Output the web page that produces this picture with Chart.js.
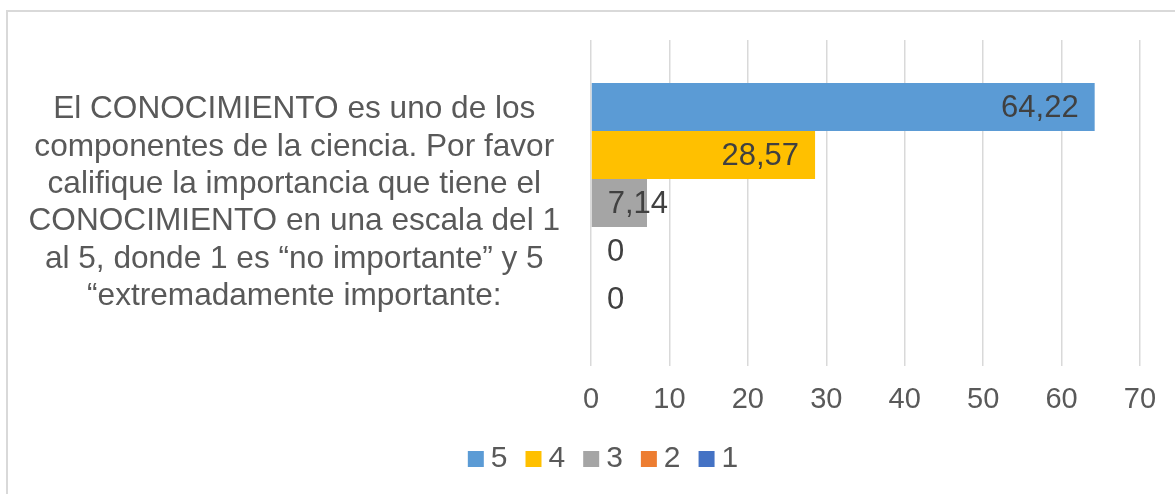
<!DOCTYPE html>
<html>
<head>
<meta charset="utf-8">
<script src="https://cdn.jsdelivr.net/npm/chart.js@4"></script>
<style>
  html, body { margin: 0; padding: 0; background: #fff; overflow: hidden; }
  #frame { position: absolute; left: 6px; top: 10px; width: 1300px; height: 600px;
           border-left: 2px solid #d9d9d9; border-top: 2px solid #d9d9d9; }
  #wrap { position: absolute; left: 0; top: 0; width: 1175px; height: 494px; }
</style>
</head>
<body>
<div id="frame"></div>
<div id="wrap"><canvas id="chart"></canvas></div>
<script>
// data
let questionLines = [
    'El CONOCIMIENTO es uno de los',
    'componentes de la ciencia. Por favor',
    'califique la importancia que tiene el',
    'CONOCIMIENTO en una escala del 1',
    'al 5, donde 1 es \u201cno importante\u201d y 5',
    '\u201cextremadamente importante:'
];
let seriesNames = ['5', '4', '3', '2', '1'];
let seriesValues = [64.22, 28.57, 7.14, 0, 0];
let seriesColors = ['#5b9bd5', '#ffc000', '#a5a5a5', '#ed7d31', '#4472c4'];
let xTicks = [0, 10, 20, 30, 40, 50, 60, 70];

let fontFam = '"Liberation Sans", Arial, sans-serif';

// legend marker: square drawn off to the right so it sits close to the text
function legendSquare(color) {
    let c = document.createElement('canvas');
    c.width = 32;
    c.height = 16;
    let g = c.getContext('2d');
    g.fillStyle = color;
    g.fillRect(15, 0, 16, 16);
    return c;
}

// labels drawn like Excel "inside end"
let valueLabels = {
    id: 'valueLabels',
    afterDatasetsDraw(chart) {
        let ctx = chart.ctx;
        ctx.save();
        ctx.font = '31px ' + fontFam;
        ctx.fillStyle = '#404040';
        ctx.textBaseline = 'middle';
        ctx.textAlign = 'left';
        chart.data.datasets.forEach((ds, i) => {
            let meta = chart.getDatasetMeta(i);
            meta.data.forEach((bar, j) => {
                let txt = String(ds.data[j]).replace('.', ',');
                let w = ctx.measureText(txt).width;
                let x = Math.max(bar.x - 16 - w, bar.base + 16);
                ctx.fillText(txt, x, bar.y + 1);
            });
        });
        ctx.restore();
    }
};

// legend sits a bit right of the canvas centre in the original
let legendShift = {
    id: 'legendShift',
    afterLayout(chart) {
        chart.legend.left += 30;
        chart.legend.right += 30;
    }
};

let datasets = seriesNames.map((name, i) => ({
    label: name,
    data: [seriesValues[i]],
    backgroundColor: seriesColors[i],
    pointStyle: legendSquare(seriesColors[i]),
    borderWidth: 0,
    barPercentage: 1,
    categoryPercentage: 0.736
}));

let ctx = document.querySelector('#chart').getContext('2d');
let chart = new Chart(ctx, {
    type: 'bar',
    data: {
        labels: [questionLines],
        datasets: datasets
    },
    plugins: [valueLabels, legendShift],
    options: {
        indexAxis: 'y',
        responsive: true,
        maintainAspectRatio: false,
        animation: false,
        layout: {
            padding: { top: 40, right: 35, bottom: 10, left: 0 }
        },
        plugins: {
            legend: {
                position: 'bottom',
                labels: {
                    usePointStyle: true,
                    boxWidth: 14,
                    boxHeight: 16,
                    padding: 12,
                    color: '#595959',
                    font: { size: 30, family: fontFam }
                }
            },
            tooltip: { enabled: false }
        },
        scales: {
            x: {
                min: 0,
                max: 70,
                afterBuildTicks: (scale) => {
                    scale.ticks = xTicks.map(v => ({ value: v }));
                },
                afterFit: (scale) => { scale.height = 66; },
                ticks: {
                    color: '#595959',
                    padding: 17,
                    maxRotation: 0,
                    font: { size: 29, family: fontFam }
                },
                grid: {
                    color: '#d9d9d9',
                    lineWidth: 1.5,
                    drawTicks: false
                },
                border: { display: false }
            },
            y: {
                afterFit: (scale) => {
                    scale.width = 591;
                    scale.paddingTop = 0;
                    scale.paddingBottom = 0;
                },
                ticks: {
                    color: '#595959',
                    padding: 31,
                    crossAlign: 'center',
                    font: { size: 31.6, family: fontFam, lineHeight: 1.185 }
                },
                grid: { display: false, drawTicks: false },
                border: { display: false }
            }
        }
    }
});
</script>
</body>
</html>
